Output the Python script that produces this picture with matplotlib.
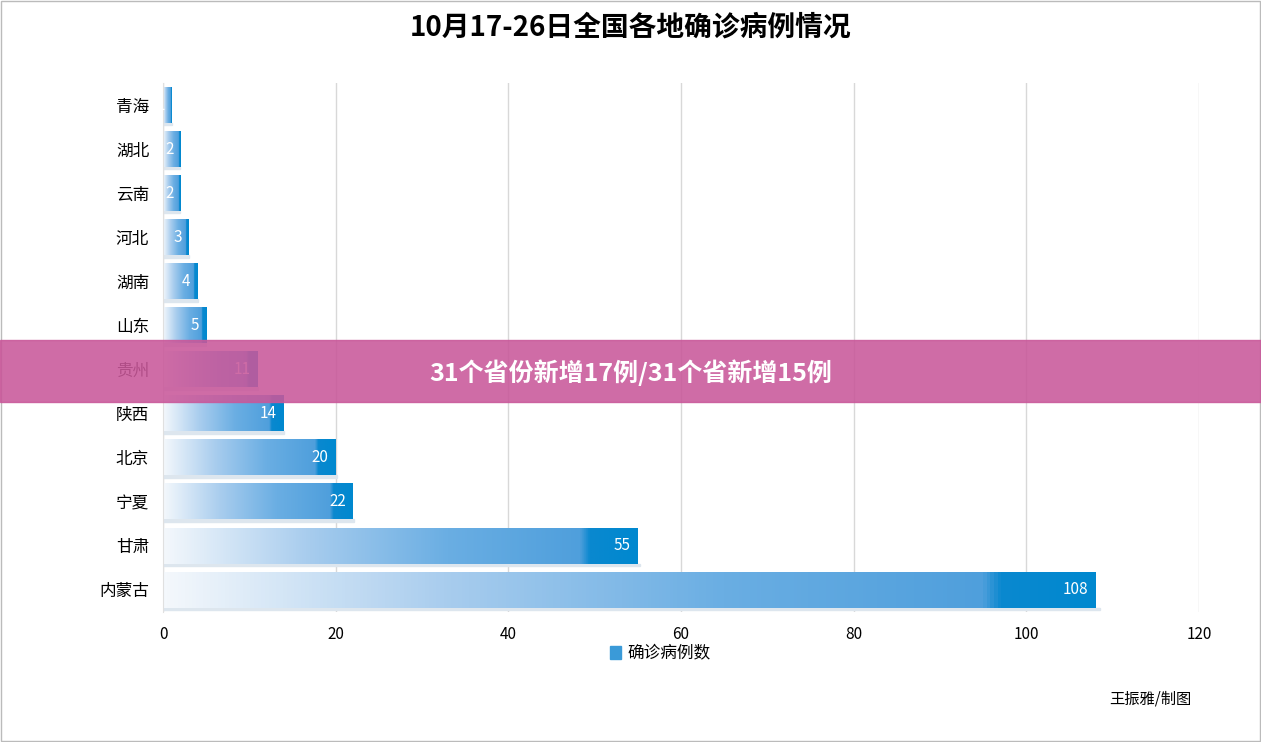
import matplotlib
matplotlib.use("Agg")
import matplotlib.pyplot as plt
import numpy as np
from matplotlib.colors import LinearSegmentedColormap
from matplotlib.patches import Rectangle

plt.rcParams['font.family'] = ['Noto Sans CJK SC', 'DejaVu Sans']

provinces = ["青海", "湖北", "云南", "河北", "湖南", "山东", "贵州", "陕西", "北京", "宁夏", "甘肃", "内蒙古"]
cases = [1, 2, 2, 3, 4, 5, 11, 14, 20, 22, 55, 108]
xticks = [0, 20, 40, 60, 80, 100, 120]

fig = plt.figure(figsize=(12.61, 7.42), dpi=100)
ax = fig.add_axes([163/1261, 1-612/742, (1199-163)/1261, (612-83)/742])
cmap = LinearSegmentedColormap.from_list("g", [(0, "#f4f8fc"), (0.3, "#a9cdee"), (0.6, "#6aaee3"),
                                              (0.88, "#4f9fdc"), (0.9, "#0a88cf"), (1, "#0088cf")])
grad = np.linspace(0, 1, 256).reshape(1, -1)
n = len(provinces)
for i, (p, v) in enumerate(zip(provinces, cases)):
    y = n - 1 - i
    ax.imshow(grad, cmap=cmap, aspect="auto", extent=[0, v, y - 0.4, y + 0.4], zorder=2)
    ax.add_patch(Rectangle((0, y - 0.46), v * 1.005, 0.06, color="#dde6ee", zorder=1))
    ax.text(v - 0.8, y, str(v), color="white", ha="right", va="center", fontsize=11, zorder=3)
ax.set_xlim(0, 120)
ax.set_ylim(-0.5, n - 0.5)
ax.set_yticks(range(n))
ax.set_yticklabels(provinces[::-1], fontsize=12)
ax.set_xticks(xticks)
ax.set_xticklabels([str(t) for t in xticks], fontsize=11)
ax.tick_params(length=0, pad=10)
ax.grid(axis="x", color="#d8d8d8", lw=1, zorder=0)
for s in ["top", "right", "bottom"]:
    ax.spines[s].set_visible(False)
ax.spines["left"].set_color("#e0e0e0")
ax.set_axisbelow(True)

fig.text(0.5, 1-27/742, "10月17-26日全国各地确诊病例情况", ha="center", va="center", fontsize=20, fontweight="bold")
fig.add_artist(Rectangle((610/1261, 1-659/742), 11/1261, 13/742, transform=fig.transFigure, color="#3a9ad8"))
fig.text(627/1261, 1-653/742, "确诊病例数", ha="left", va="center", fontsize=12)
fig.text(1150/1261, 1-699/742, "王振雅/制图", ha="center", va="center", fontsize=11)
fig.add_artist(Rectangle((0, 1-402/742), 1, 62/742, transform=fig.transFigure, color="#c9589a", alpha=0.88, zorder=10))
fig.text(631/1261, 1-373/742, "31个省份新增17例/31个省新增15例", ha="center", va="center", fontsize=18,
         fontweight="bold", color="white", zorder=11)
fig.add_artist(Rectangle((0.001, 0.001), 0.998, 0.998, transform=fig.transFigure, fill=False, ec="#bbbbbb", lw=1))
fig.savefig("out.png", dpi=100)
